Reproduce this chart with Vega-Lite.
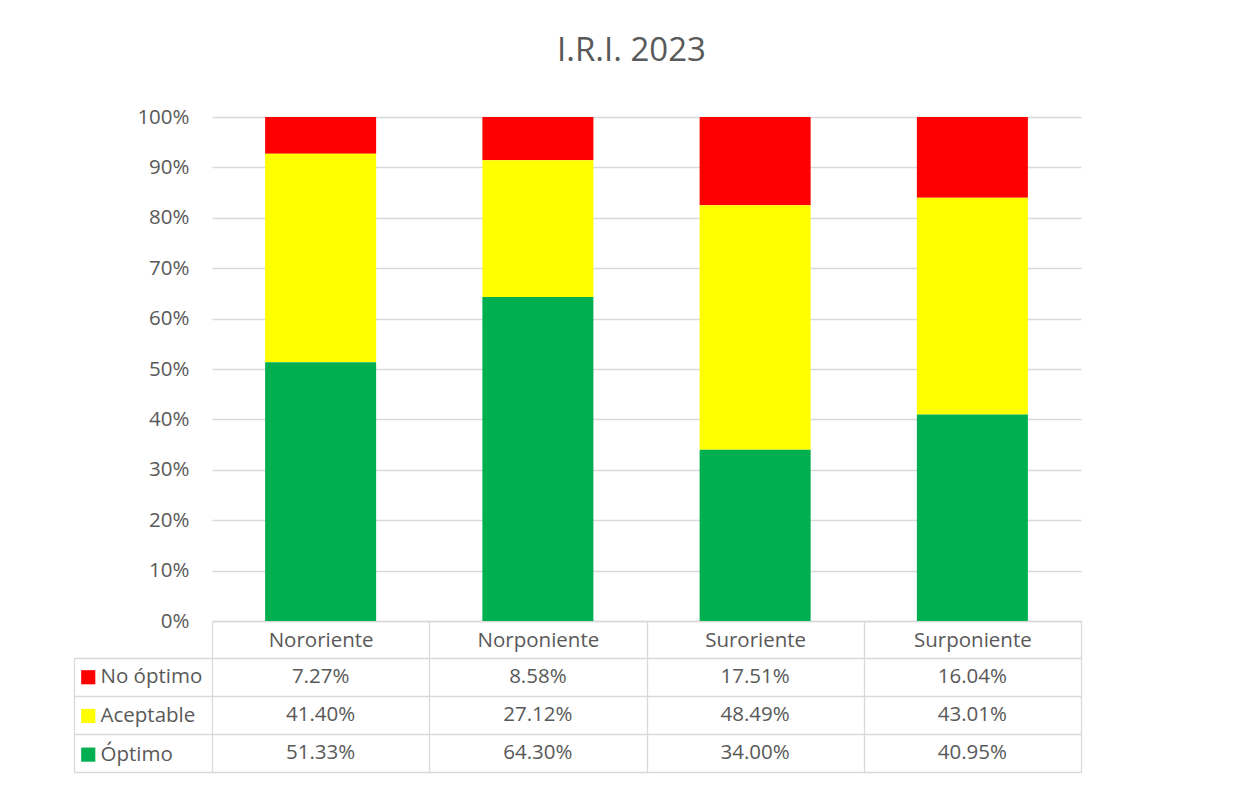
{
  "$schema": "https://vega.github.io/schema/vega-lite/v6.json",
  "background": "white",
  "padding": {"left": 73, "top": 35, "right": 20, "bottom": 20},
  "config": {
    "font": "Open Sans",
    "view": {"stroke": null},
    "axis": {"labelFont": "Open Sans", "labelColor": "#595959", "labelFontSize": 20.5},
    "legend": {"labelFont": "Open Sans"}
  },
  "datasets": {
    "iri": [
      {"region": "Nororiente", "serie": "No óptimo", "valor": 0.0727},
      {"region": "Nororiente", "serie": "Aceptable", "valor": 0.4140},
      {"region": "Nororiente", "serie": "Óptimo", "valor": 0.5133},
      {"region": "Norponiente", "serie": "No óptimo", "valor": 0.0858},
      {"region": "Norponiente", "serie": "Aceptable", "valor": 0.2712},
      {"region": "Norponiente", "serie": "Óptimo", "valor": 0.6430},
      {"region": "Suroriente", "serie": "No óptimo", "valor": 0.1751},
      {"region": "Suroriente", "serie": "Aceptable", "valor": 0.4849},
      {"region": "Suroriente", "serie": "Óptimo", "valor": 0.3400},
      {"region": "Surponiente", "serie": "No óptimo", "valor": 0.1604},
      {"region": "Surponiente", "serie": "Aceptable", "valor": 0.4301},
      {"region": "Surponiente", "serie": "Óptimo", "valor": 0.4095}
    ]
  },
  "bounds": "flush",
  "spacing": 37,
  "vconcat": [
    {
      "width": 869,
      "height": 504,
      "title": {"text": "I.R.I. 2023", "fontSize": 33, "fontWeight": "normal", "color": "#595959", "font": "Open Sans", "dx": -15, "offset": 39},
      "data": {"name": "iri"},
      "transform": [
        {"calculate": "indexof(['Óptimo','Aceptable','No óptimo'], datum.serie)", "as": "orden"}
      ],
      "mark": {"type": "bar", "width": {"band": 0.511}},
      "encoding": {
        "x": {
          "field": "region", "type": "nominal",
          "sort": ["Nororiente", "Norponiente", "Suroriente", "Surponiente"],
          "scale": {"paddingInner": 0, "paddingOuter": 0},
          "axis": {
            "title": null, "labelAngle": 0, "labelBaseline": "middle", "labelPadding": -18,
            "ticks": true, "tickBand": "extent", "tickSize": 37, "tickColor": "#d9d9d9", "tickWidth": 1.3,
            "domain": true, "domainColor": "#d9d9d9", "domainWidth": 1.3, "grid": false
          }
        },
        "y": {
          "field": "valor", "type": "quantitative", "stack": "zero",
          "scale": {"domain": [0, 1], "nice": false},
          "axis": {
            "title": null, "format": ".0%", "values": [0, 0.1, 0.2, 0.3, 0.4, 0.5, 0.6, 0.7, 0.8, 0.9, 1],
            "grid": true, "gridColor": "#d9d9d9", "gridWidth": 1.3,
            "domain": false, "ticks": false, "labelPadding": 23
          }
        },
        "color": {
          "field": "serie", "type": "nominal",
          "scale": {"domain": ["No óptimo", "Aceptable", "Óptimo"], "range": ["#ff0000", "#ffff00", "#00b050"]},
          "legend": {
            "orient": "none", "legendX": -134, "legendY": 550, "title": null,
            "symbolType": "square", "symbolSize": 200, "symbolStrokeWidth": 0,
            "labelFontSize": 20.5, "labelColor": "#595959", "labelOffset": 2,
            "rowPadding": 17.7, "padding": 0
          }
        },
        "order": {"field": "orden", "type": "quantitative", "sort": "ascending"}
      }
    },
    {
      "width": 869,
      "height": 114,
      "data": {"name": "iri"},
      "mark": {"type": "text", "fontSize": 20.5, "color": "#595959", "font": "Open Sans"},
      "encoding": {
        "x": {
          "field": "region", "type": "nominal",
          "sort": ["Nororiente", "Norponiente", "Suroriente", "Surponiente"],
          "scale": {"paddingInner": 0, "paddingOuter": 0},
          "axis": {
            "title": null, "labels": false, "ticks": false, "domain": false,
            "grid": true, "tickBand": "extent", "gridColor": "#d9d9d9", "gridWidth": 1.3
          }
        },
        "y": {
          "field": "serie", "type": "nominal",
          "sort": ["No óptimo", "Aceptable", "Óptimo"],
          "scale": {"paddingInner": 0, "paddingOuter": 0},
          "axis": {
            "title": null, "labels": false, "offset": 138,
            "grid": true, "tickBand": "extent", "gridColor": "#d9d9d9", "gridWidth": 1.3,
            "domain": true, "domainColor": "#d9d9d9", "domainWidth": 1.3,
            "ticks": true, "tickSize": -138, "tickColor": "#d9d9d9", "tickWidth": 1.3
          }
        },
        "text": {"field": "valor", "type": "quantitative", "format": ".2%"}
      }
    }
  ]
}
